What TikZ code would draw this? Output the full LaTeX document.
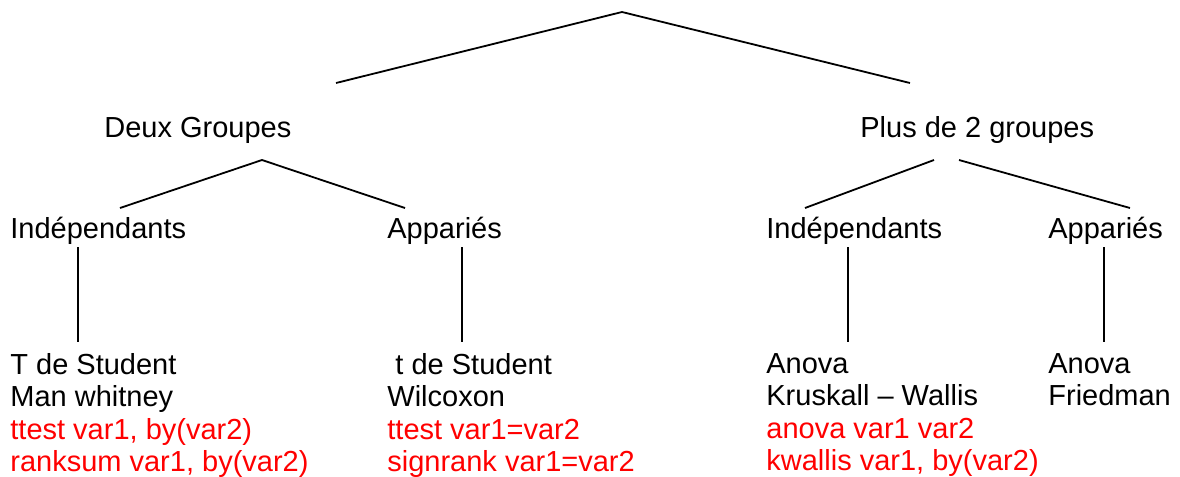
\documentclass[tikz,border=0pt]{standalone}
\usepackage{fontspec}
\setmainfont{Liberation Sans}
\usepackage{xcolor}
\definecolor{cmdRed}{HTML}{FF0000}
\tikzset{
    tree text/.style={anchor=base west, inner sep=0pt, font=\fontsize{14.5}{16.25}\selectfont},
    test text/.style={tree text, anchor=north west, align=left},
    branch/.style={line width=0.9pt}
}

\begin{document}
\begin{tikzpicture}[x=0.5pt, y=-0.5pt]
    \useasboundingbox (0,0) rectangle (1180,477);

    % groupes
    \node[tree text] (deux) at (104,137) {Deux Groupes};
    \node[tree text] (plus) at (860,137) {Plus de 2 groupes};

    % sous-groupes
    \node[tree text] (indepA) at (10,238) {Indépendants};
    \node[tree text] (apparA) at (387,238) {Appariés};
    \node[tree text] (indepB) at (766,238) {Indépendants};
    \node[tree text] (apparB) at (1048,238) {Appariés};

    % tests
    \node[test text] (testA) at (10,353) {T de Student\\Man whitney\\
        \textcolor{cmdRed}{ttest var1, by(var2)}\\\textcolor{cmdRed}{ranksum var1, by(var2)}};
    \node[test text] (testB) at (387,353) {\ t de Student\\Wilcoxon\\
        \textcolor{cmdRed}{ttest var1=var2}\\\textcolor{cmdRed}{signrank var1=var2}};
    \node[test text] (testC) at (766,353) {Anova\\Kruskall – Wallis\\
        \textcolor{cmdRed}{anova var1 var2}\\\textcolor{cmdRed}{kwallis var1, by(var2)}};
    \node[test text] (testD) at (1048,353) {Anova\\Friedman};

    % points des branches
    \coordinate (root) at (622,12);
    \coordinate (rootL) at (336,83);
    \coordinate (rootR) at (910,83);
    \coordinate (deuxTop) at (262,160);
    \coordinate (deuxL) at (120,208);
    \coordinate (deuxR) at (405,208);
    \coordinate (plusTopL) at (934,160);
    \coordinate (plusTopR) at (959,160);
    \coordinate (plusL) at (805,208);
    \coordinate (plusR) at (1130,208);
    \foreach \n/\x in {a/78,b/462,c/848,d/1104} {
        \coordinate (\n top) at (\x,247);
        \coordinate (\n bot) at (\x,342);
    }

    \draw[branch] (rootL) -- (root) -- (rootR);
    \draw[branch] (deuxL) -- (deuxTop) -- (deuxR);
    \draw[branch] (plusTopL) -- (plusL);
    \draw[branch] (plusTopR) -- (plusR);
    \foreach \n in {a,b,c,d}
        \draw[branch] (\n top) -- (\n bot);
\end{tikzpicture}
\end{document}
